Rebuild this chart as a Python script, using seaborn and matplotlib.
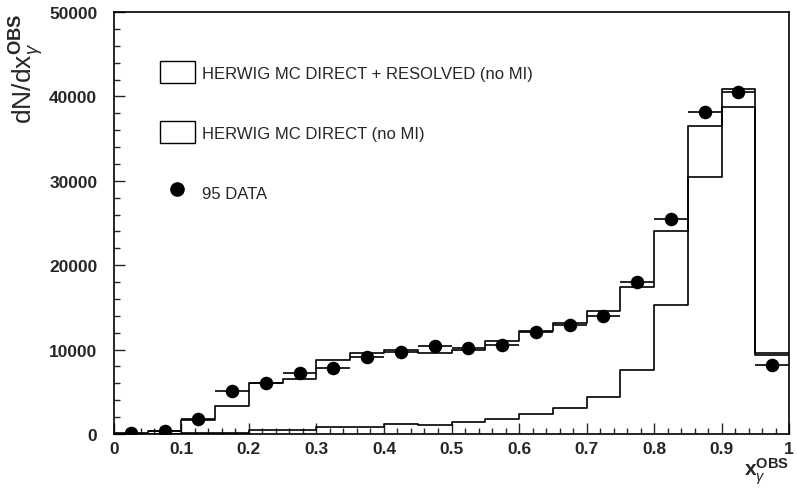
import numpy as np
import matplotlib
matplotlib.use("Agg")
import matplotlib.pyplot as plt
from matplotlib.patches import Patch
from matplotlib.lines import Line2D
from matplotlib.ticker import MultipleLocator, FormatStrFormatter
import seaborn as sns

sns.set_style("ticks")
plt.rcParams["font.family"] = ["Liberation Sans", "DejaVu Sans"]
plt.rcParams["mathtext.fontset"] = "custom"
plt.rcParams["mathtext.rm"] = "Liberation Sans"
plt.rcParams["mathtext.it"] = "Liberation Sans:italic"
plt.rcParams["mathtext.bf"] = "Liberation Sans:bold"

# bin edges of x_gamma^OBS
bin_edges = [0.0, 0.05, 0.1, 0.15, 0.2, 0.25, 0.3, 0.35, 0.4, 0.45, 0.5,
             0.55, 0.6, 0.65, 0.7, 0.75, 0.8, 0.85, 0.9, 0.95, 1.0]
bin_centers = [0.025, 0.075, 0.125, 0.175, 0.225, 0.275, 0.325, 0.375, 0.425, 0.475,
               0.525, 0.575, 0.625, 0.675, 0.725, 0.775, 0.825, 0.875, 0.925, 0.975]

mc_direct_resolved = [50, 310, 1700, 3350, 6100, 6500, 8800, 9600, 10000, 9600,
                      10000, 11000, 12200, 13200, 14600, 17400, 24000, 36500, 40900, 9600]
mc_direct = [0, 20, 100, 120, 470, 470, 790, 870, 1180, 1060,
             1380, 1780, 2370, 3080, 4420, 7570, 15270, 30400, 38700, 9400]
data_95 = [100, 400, 1780, 5130, 6030, 7180, 7810, 9070, 9660, 10450,
           10140, 10570, 12030, 12900, 14000, 18000, 25500, 38200, 40500, 8200]

fig = plt.figure(figsize=(7.97, 4.89), dpi=100)
ax = fig.add_axes([0.143, 0.1104, 0.847, 0.863])

sns.histplot(x=bin_centers, weights=mc_direct_resolved, bins=bin_edges,
             element="step", fill=False, color="black", linewidth=1.2, ax=ax)
sns.histplot(x=bin_centers, weights=mc_direct, bins=bin_edges,
             element="step", fill=False, color="black", linewidth=1.2, ax=ax)

ax.errorbar(bin_centers, data_95, xerr=0.025, fmt="none",
            ecolor="black", elinewidth=1.2, zorder=3)
sns.scatterplot(x=bin_centers, y=data_95, color="black", s=95,
                edgecolor="black", linewidth=0, zorder=4, ax=ax)

ax.set_xlim(0, 1)
ax.set_ylim(0, 50000)
ax.xaxis.set_major_locator(MultipleLocator(0.1))
ax.xaxis.set_minor_locator(MultipleLocator(0.02))
ax.yaxis.set_major_locator(MultipleLocator(10000))
ax.yaxis.set_minor_locator(MultipleLocator(2000))
ax.xaxis.set_major_formatter(FormatStrFormatter("%g"))
ax.yaxis.set_major_formatter(FormatStrFormatter("%d"))
ax.tick_params(which="both", direction="in", top=False, right=False,
               labelsize=12.5, width=1)
ax.tick_params(which="major", length=8)
ax.tick_params(axis="y", which="major", pad=12)
ax.tick_params(axis="x", which="major", pad=5)
ax.tick_params(which="minor", length=4)
for lab in ax.get_xticklabels() + ax.get_yticklabels():
    lab.set_fontweight("bold")
for sp in ax.spines.values():
    sp.set_linewidth(1.2)
    sp.set_color("black")

ax.set_ylabel(r"$\mathrm{dN/dx}_{\gamma}^{\mathbf{OBS}}$", fontsize=19, loc="top")
ax.yaxis.set_label_coords(-0.1, 1.0)
ax.set_xlabel(r"$\mathbf{x}_{\gamma}^{\mathbf{OBS}}$", fontsize=15, loc="right")
ax.xaxis.set_label_coords(1.0, -0.05)

handles = [
    Patch(facecolor="white", edgecolor="black", linewidth=1.0),
    Patch(facecolor="white", edgecolor="black", linewidth=1.0),
    Line2D([], [], marker="o", color="black", linestyle="none", markersize=9.5),
]
labels = ["HERWIG MC DIRECT + RESOLVED (no MI)",
          "HERWIG MC DIRECT (no MI)",
          "95 DATA"]
ax.legend(handles, labels, loc="upper left", bbox_to_anchor=(0.068, 0.884),
          frameon=False, fontsize=12, handlelength=2.1, handleheight=1.7,
          handletextpad=0.42, labelspacing=2.25, borderpad=0, borderaxespad=0)

plt.savefig("out.png", dpi=100)
